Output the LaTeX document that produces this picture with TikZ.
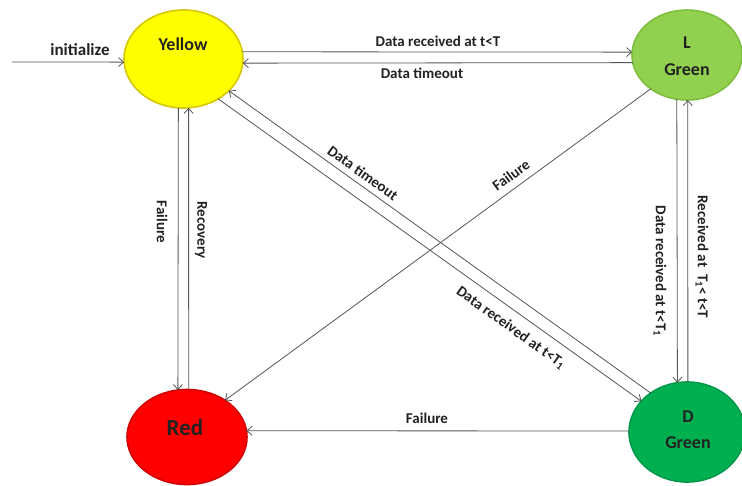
\documentclass[tikz,border=0pt]{standalone}
\usepackage{fontspec}
\setmainfont{Carlito}
\usetikzlibrary{arrows.meta,shapes.geometric}
\definecolor{ylw}{HTML}{FFFF00}
\definecolor{ylwE}{HTML}{D6C800}
\definecolor{lgr}{HTML}{92D050}
\definecolor{lgrE}{HTML}{7EBE3E}
\definecolor{rd}{HTML}{FF0000}
\definecolor{rdE}{HTML}{D20000}
\definecolor{dgr}{HTML}{00B050}
\definecolor{dgrE}{HTML}{00994A}
\definecolor{ln}{HTML}{555555}
\definecolor{txt}{HTML}{222222}
\begin{document}
\begin{tikzpicture}[x=1pt,y=-1pt,
  state/.style={ellipse, inner sep=0pt, outer sep=0pt, line width=1.6pt},
  conn/.style={draw=ln, line width=0.8pt, -{Straight Barb[length=5pt,width=9pt]}},
  lbl/.style={font=\fontsize{15}{17}\selectfont\bfseries, text=txt, inner sep=0pt},
  stxt/.style={font=\fontsize{18}{20}\selectfont\bfseries, text=txt, inner sep=0pt}]
  \fill[white] (0,0) rectangle (742,485);
  \useasboundingbox (0,0) rectangle (742,485);

  % states
  \node[state, fill=ylw, draw=ylwE, minimum width=119pt, minimum height=98pt] (Y) at (183.5,59) {};
  \node[state, fill=lgr, draw=lgrE, minimum width=110pt, minimum height=90pt] (L) at (687,55) {};
  \node[state, fill=rd, draw=rdE, minimum width=120pt, minimum height=95pt] (R) at (187,437) {};
  \node[state, fill=dgr, draw=dgrE, minimum width=116pt, minimum height=100pt] (D) at (687,432) {};

  \node[stxt] (Yt) at (183,44) {Yellow};
  \node[stxt] (Lt1) at (687,43) {L};
  \node[stxt] (Lt2) at (687,70) {Green};
  \node[stxt, font=\fontsize{23}{25}\selectfont\bfseries] (Rt) at (185,428) {Red};
  \node[stxt] (Dt1) at (688,417) {D};
  \node[stxt] (Dt2) at (688,443) {Green};

  % connectors
  \coordinate (init) at (12,62);
  \draw[conn] (init) -- (Y.183);
  \draw[conn] (Y.7) -- (L.177);
  \draw[conn] (L.188) -- (Y.-4);
  \draw[conn] (Y.-96) -- (R.101);
  \draw[conn] (R.88) -- (Y.-84);
  \draw[conn] (D.133) -- (Y.-35);
  \draw[conn] (Y.-49) -- (D.146.5);
  \draw[conn] (L.223) -- (R.44);
  \draw[conn] (L.-103) -- (D.101.5);
  \draw[conn] (D.89) -- (L.-89);
  \draw[conn] (D.179) -- (R.6);

  % labels
  \node[lbl, font=\fontsize{17}{19}\selectfont\bfseries] (li) at (80,50) {initialize};
  \node[lbl] (l1) at (438,41) {Data received at t<T};
  \node[lbl] (l2) at (422,73) {Data timeout};
  \node[lbl, rotate=-90] (l3) at (162,222) {Failure};
  \node[lbl, rotate=-90] (l4) at (201,230) {Recovery};
  \node[lbl, rotate=-35.6] (l5) at (363,173) {Data timeout};
  \node[lbl, rotate=-35.6] (l6) at (511,328) {Data received at t<T\textsubscript{1}};
  \node[lbl, rotate=36.2] (l7) at (511,175) {Failure};
  \node[lbl, rotate=-90] (l8) at (660,271) {Data received at t<T\textsubscript{1}};
  \node[lbl, rotate=-90] (l9) at (702,257) {Received at\ \ T\textsubscript{1}< t<T};
  \node[lbl] (l10) at (427,418) {Failure};
\end{tikzpicture}
\end{document}
